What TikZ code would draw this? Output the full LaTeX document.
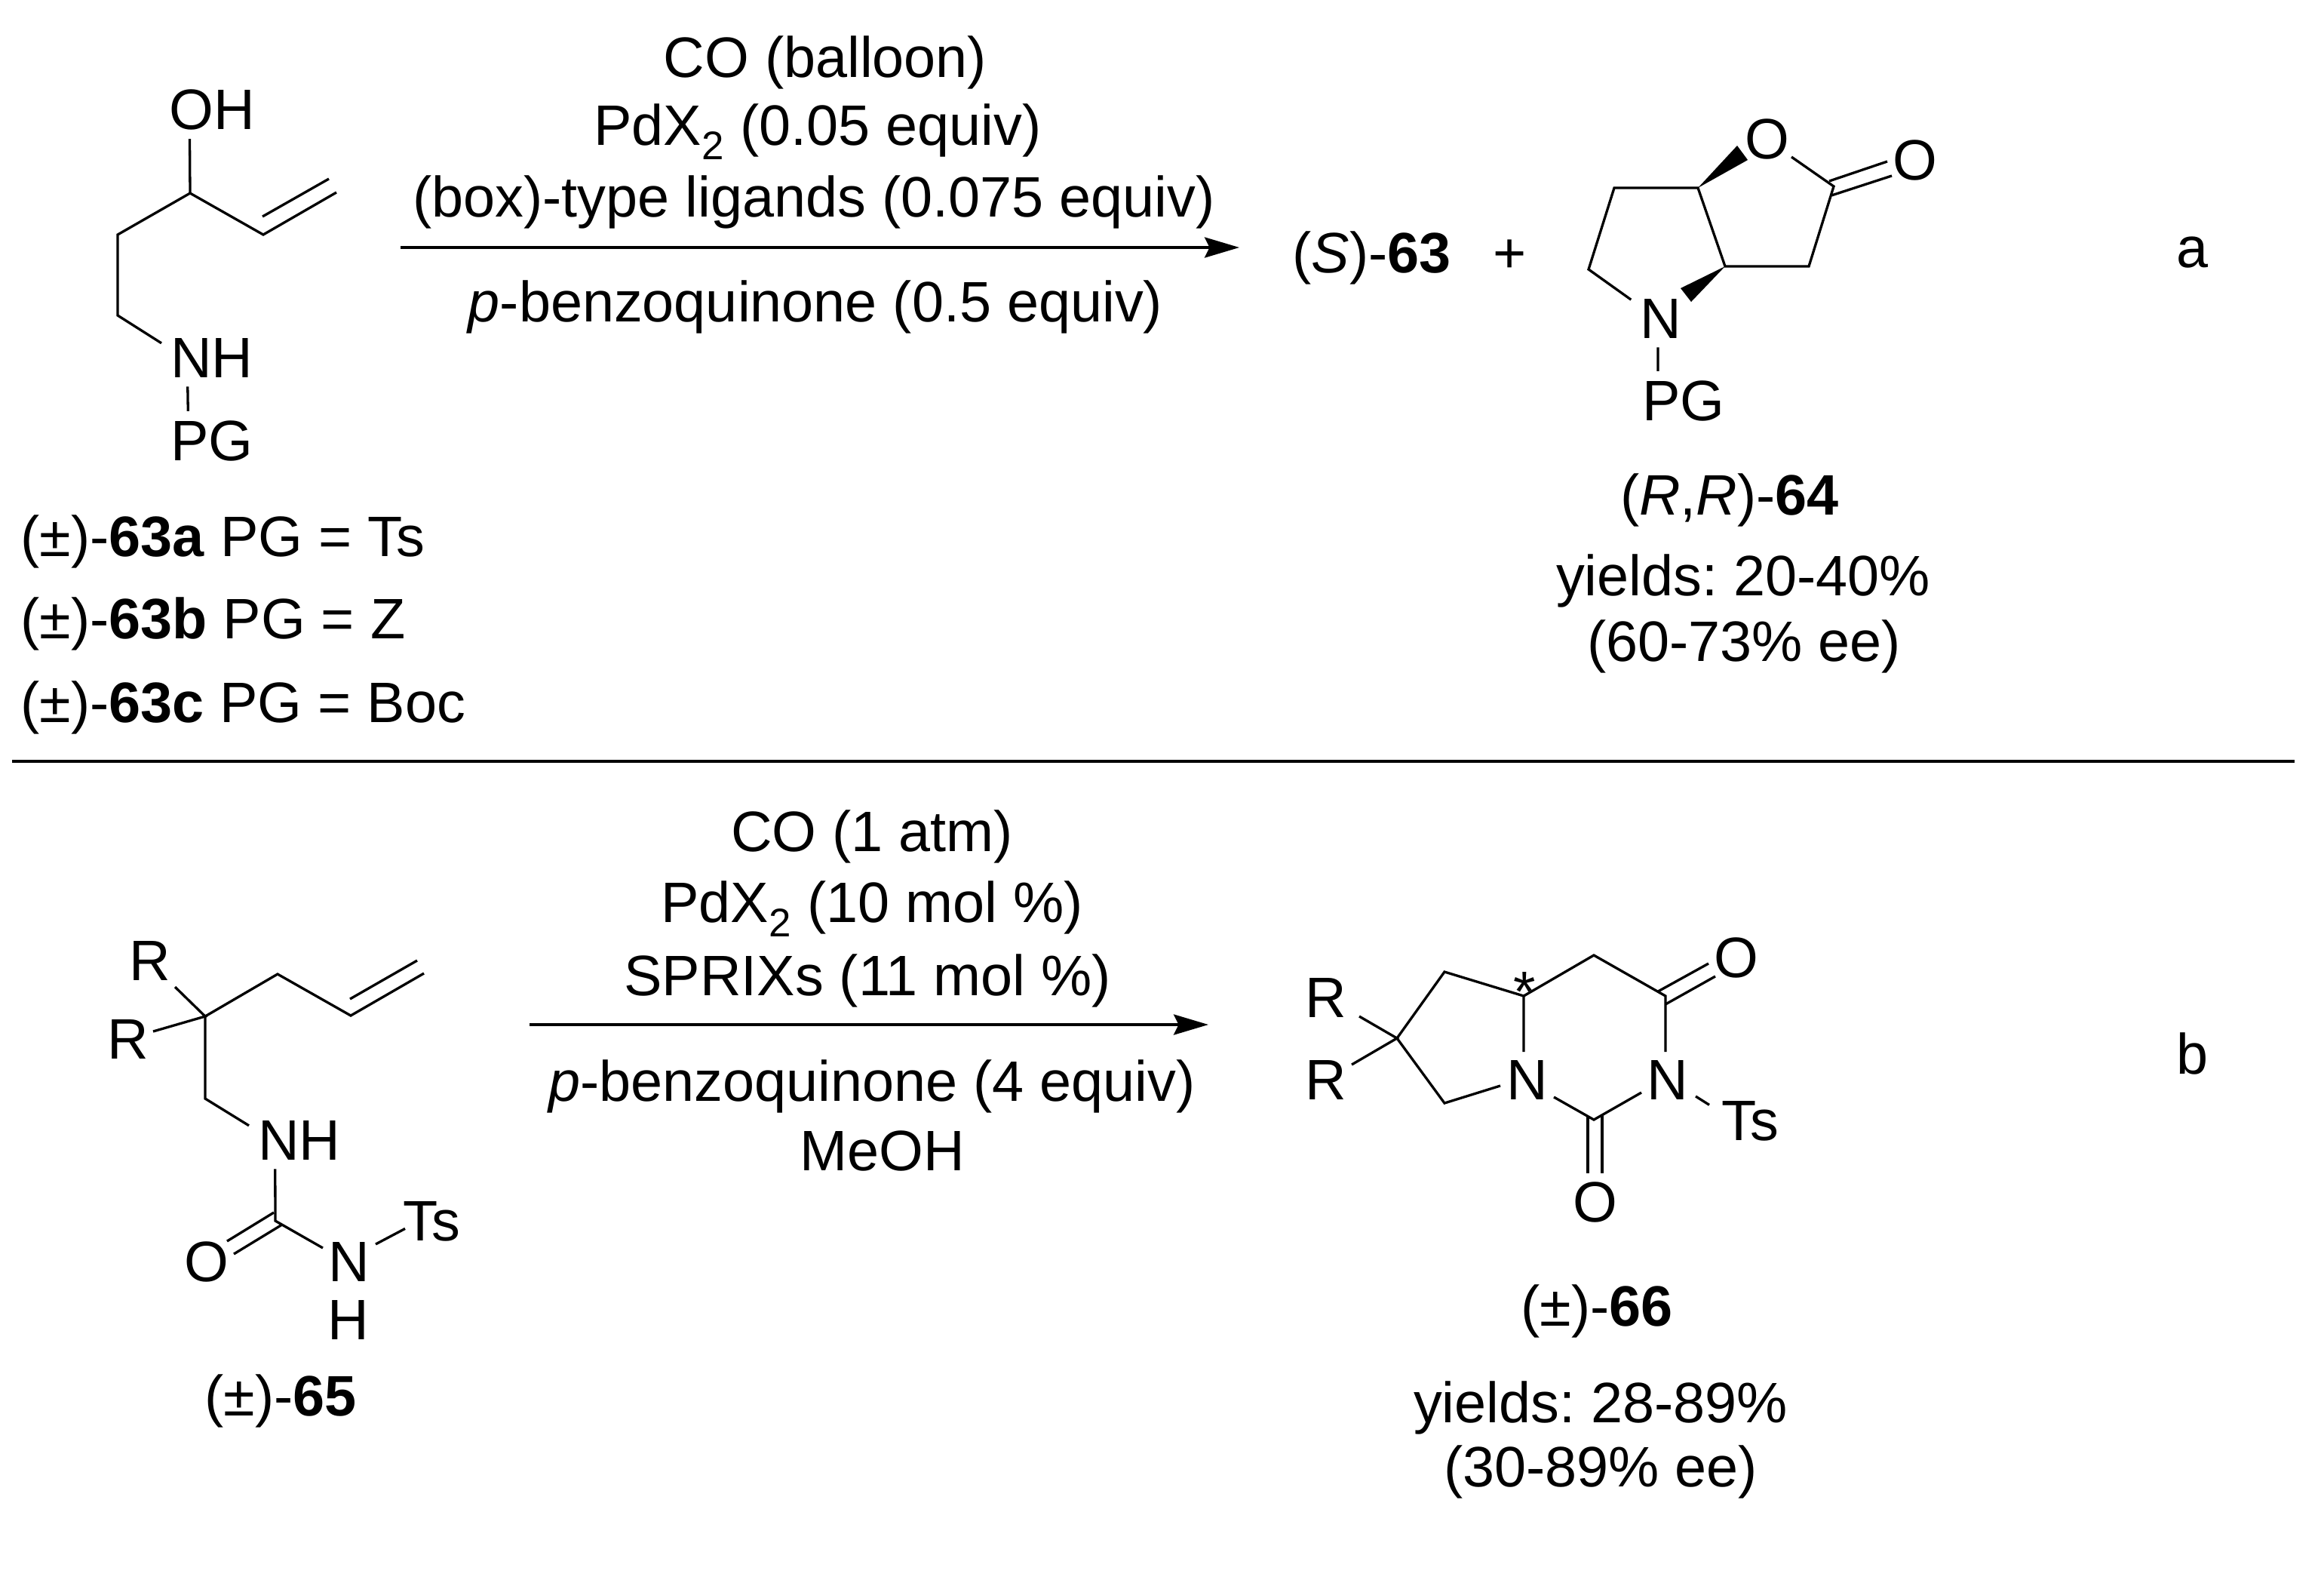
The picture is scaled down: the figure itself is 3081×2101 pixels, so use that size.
\documentclass[tikz,border=0pt]{standalone}
\usepackage{fontspec}
\setmainfont{Liberation Sans}
\usetikzlibrary{arrows.meta,calc,positioning}
\frenchspacing
\tikzset{
	every node/.style={font=\fontsize{37.8}{44}\selectfont},
	atom/.style={anchor=base, inner sep=6pt},
	txt/.style={anchor=base, inner sep=0pt},
	bond/.style={line width=1.65pt},
	rxn/.style={line width=2pt, -{Stealth[length=23pt, width=13.5pt, inset=3.3pt]}}
}
\begin{document}
\begin{tikzpicture}[x=0.5pt, y=-0.5pt]
		\useasboundingbox (0,0) rectangle (3081,2101);
		
		% substrate 63
		\node[atom] (oh) at (281,171) {OH};
		\node[atom] (nh) at (281,500) {NH};
		\node[atom] (pg) at (281,610) {PG};
		\coordinate (a1) at (252,256);
		\coordinate (a2) at (349,311);
		\coordinate (a3) at (446,255);
		\coordinate (a4) at (348,287);
		\coordinate (a5) at (436,237);
		\coordinate (a6) at (156,311);
		\coordinate (a7) at (156,418);
		\draw[bond] (oh.233) -- (a1) -- (a2) -- (a3);
		\draw[bond] (a4) -- (a5);
		\draw[bond] (a1) -- (a6) -- (a7) -- (nh.164);
		\draw[bond] (nh.230) -- (pg.129);
		
		\node[txt, anchor=base west] (s1) at (27,737) {(±)-\textbf{63a} PG = Ts};
		\node[txt, anchor=base west] (s2) at (27,846) {(±)-\textbf{63b} PG = Z};
		\node[txt, anchor=base west] (s3) at (27,957) {(±)-\textbf{63c} PG = Boc};
		
		% reaction a
		\node[txt] (t1) at (1094,102) {CO (balloon)};
		\node[txt] (t2) at (1084,192) {PdX\textsubscript{2} (0.05 equiv)};
		\node[txt] (t3) at (1079,287) {(box)-type ligands (0.075 equiv)};
		\node[txt] (t4) at (1081,426) {\textit{p}-benzoquinone (0.5 equiv)};
		\coordinate (r1) at (531,328);
		\coordinate (r2) at (1643,328);
		\draw[rxn] (r1) -- (r2);
		
		% product 64
		\node[txt, anchor=base west] (s63) at (1713,361) {(\textit{S})-\textbf{63}};
		\node[txt] (plus) at (2002,361) {+};
		\node[atom] (n) at (2202,448) {N};
		\node[atom] (pgb) at (2232,557) {PG};
		\node[atom] (o1) at (2343,210) {O};
		\node[atom] (o2) at (2539,238) {O};
		\coordinate (b1) at (2140,249);
		\coordinate (b2) at (2251,249);
		\coordinate (b3) at (2287,353);
		\coordinate (b4) at (2106,357);
		\coordinate (b5) at (2431,247);
		\coordinate (b6) at (2398,353);
		\coordinate (b7) at (2425,240);
		\coordinate (b8) at (2428,259);
		\coordinate (w1) at (2303,193);
		\coordinate (w2) at (2317,212);
		\coordinate (w3) at (2228,382);
		\coordinate (w4) at (2242,400);
		\draw[bond] (n.148) -- (b4) -- (b1) -- (b2) -- (b3) -- (b6) -- (b5) -- ($(o1)+(32,24)$);
		\draw[bond] (n.264) -- (pgb.131);
		\draw[bond] (b7) -- ($(o2)+(-37,2)$);
		\draw[bond] (b8) -- ($(o2)+(-31,21)$);
		\fill (b2) -- (w1) -- (w2) -- cycle;
		\fill (b3) -- (w3) -- (w4) -- cycle;
		
		\node[txt] (l1) at (2293,682) {(\textit{R},\textit{R})-\textbf{64}};
		\node[txt] (l2) at (2311,789) {yields: 20-40\%};
		\node[txt] (l3) at (2312,876) {(60-73\% ee)};
		\node[txt] (la) at (2906,354) {a};
		
		% separator
		\coordinate (d1) at (16,1009);
		\coordinate (d2) at (3042,1009);
		\draw[line width=2pt] (d1) -- (d2);
		
		% substrate 65
		\node[atom] (r65a) at (199,1299) {R};
		\node[atom] (r65b) at (170,1403) {R};
		\node[atom] (nh65) at (397,1537) {NH};
		\node[atom] (o65) at (274,1698) {O};
		\node[atom] (n65) at (463,1698) {N};
		\node[atom] (h65) at (462,1775) {H};
		\node[atom] (ts65) at (572,1644) {Ts};
		\coordinate (c1) at (272,1347);
		\coordinate (c2) at (368,1291);
		\coordinate (c3) at (465,1346);
		\coordinate (c4) at (562,1290);
		\coordinate (c5) at (464,1324);
		\coordinate (c6) at (553,1273);
		\coordinate (c7) at (272,1456);
		\coordinate (c8) at (365,1618);
		\coordinate (c9) at (363,1607);
		\coordinate (c10) at (374,1623);
		\draw[bond] (c1) -- (c2) -- (c3) -- (c4);
		\draw[bond] (c5) -- (c6);
		\draw[bond] ($(r65a)+(33,35)$) -- (c1) -- ($(r65b)+(33,-10)$);
		\draw[bond] (c1) -- (c7) -- (nh65.164);
		\draw[bond] (nh65.230) -- (c8) -- ($(n65)+(-35,-18)$);
		\draw[bond] (c9) -- ($(o65)+(27,-27)$);
		\draw[bond] (c10) -- ($(o65)+(36,-10)$);
		\draw[bond] ($(n65)+(35,-23)$) -- ($(ts65)+(-35,10)$);
		\node[txt] (l4) at (372,1876) {(±)-\textbf{65}};
		
		% reaction b
		\node[txt] (t5) at (1156,1128) {CO (1 atm)};
		\node[txt] (t6) at (1156,1222) {PdX\textsubscript{2} (10 mol \%)};
		\node[txt] (t7) at (1150,1319) {SPRIXs (11 mol \%)};
		\node[txt] (t8) at (1156,1459) {\textit{p}-benzoquinone (4 equiv)};
		\node[txt] (t9) at (1170,1551) {MeOH};
		\coordinate (r3) at (702,1358);
		\coordinate (r4) at (1602,1358);
		\draw[rxn] (r3) -- (r4);
		
		% product 66
		\node[atom] (r66a) at (1758,1348) {R};
		\node[atom] (r66b) at (1758,1457) {R};
		\node[atom] (n1) at (2025,1457) {N};
		\node[atom] (n2) at (2211,1457) {N};
		\node[atom] (ts66) at (2320,1511) {Ts};
		\node[atom] (o3) at (2302,1295) {O};
		\node[atom] (o4) at (2115,1619) {O};
		\node[txt] (star) at (2021,1340) {*};
		\coordinate (e1) at (1852,1376);
		\coordinate (e2) at (1915,1288);
		\coordinate (e3) at (2020,1320);
		\coordinate (e4) at (1915,1462);
		\coordinate (e5) at (2113,1266);
		\coordinate (e6) at (2208,1320);
		\coordinate (e7) at (2198,1314);
		\coordinate (e8) at (2208,1331);
		\coordinate (e9) at (2113,1484);
		\coordinate (e10) at (2105,1479);
		\coordinate (e11) at (2124,1478);
		\draw[bond] ($(r66a)+(44,25)$) -- (e1) -- ($(r66b)+(34,-20)$);
		\draw[bond] ($(n1)+(-36,8)$) -- (e4) -- (e1) -- (e2) -- (e3) -- ($(n1)+(-5,-37)$);
		\draw[bond] (e3) -- (e5) -- (e6) -- ($(n2)+(-3,-37)$);
		\draw[bond] (e7) -- ($(o3)+(-37,8)$);
		\draw[bond] (e8) -- ($(o3)+(-28,25)$);
		\draw[bond] ($(n1)+(35,23)$) -- (e9) -- ($(n2)+(-35,17)$);
		\draw[bond] ($(n2)+(37,22)$) -- ($(ts66)+(-54,-21)$);
		\draw[bond] (e10) -- ($(o4)+(-10,-38)$);
		\draw[bond] (e11) -- ($(o4)+(9,-38)$);
		
		\node[txt] (l5) at (2117,1757) {(±)-\textbf{66}};
		\node[txt] (l6) at (2122,1885) {yields: 28-89\%};
		\node[txt] (l7) at (2122,1970) {(30-89\% ee)};
		\node[txt] (lb) at (2906,1423) {b};
		
\end{tikzpicture}
\end{document}
